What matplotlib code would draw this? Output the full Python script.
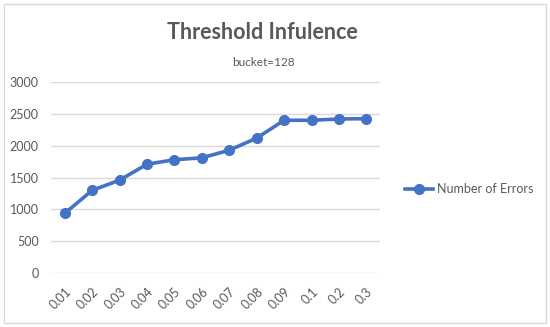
import matplotlib.pyplot as plt
from matplotlib.patches import Rectangle

thresholds = ['0.01', '0.02', '0.03', '0.04', '0.05', '0.06',
              '0.07', '0.08', '0.09', '0.1', '0.2', '0.3']
errors = [940, 1300, 1460, 1710, 1780, 1810, 1930, 2120, 2400, 2400, 2420, 2425]
yticks = [0, 500, 1000, 1500, 2000, 2500, 3000]

plt.rcParams['font.family'] = ['Lato', 'DejaVu Sans']
txt = '#595959'
blue = '#4472C4'

fig = plt.figure(figsize=(5.5, 3.27), dpi=100)
fig.patches.append(Rectangle((0.008, 0.012), 0.984, 0.975, transform=fig.transFigure,
                             fill=False, edgecolor='#d9d9d9', linewidth=1))
ax = fig.add_axes([0.093, 0.165, 0.598, 0.584])
xs = range(len(thresholds))
ax.plot(xs, errors, color=blue, linewidth=2.6, marker='o', markersize=7,
        label='Number of Errors')
ax.set_xlim(-0.5, len(thresholds) - 0.5)
ax.set_ylim(0, 3000)
ax.set_yticks(yticks)
ax.set_xticks(list(xs))
ax.set_xticklabels(thresholds, rotation=45, ha='right', rotation_mode='anchor')
ax.grid(axis='y', color='#d9d9d9', linewidth=1)
ax.set_axisbelow(True)
for s in ax.spines.values():
    s.set_visible(False)
ax.tick_params(length=0, colors=txt, labelsize=9)
ax.tick_params(axis='y', pad=9)
ax.tick_params(axis='x', pad=9)

fig.text(0.477, 0.902, 'Threshold Infulence', ha='center', va='center',
         fontsize=15.5, fontweight='bold', color=txt)
fig.text(0.479, 0.81, 'bucket=128', ha='center', va='center', fontsize=8.5, color=txt)

fig.legend(loc='center left', bbox_to_anchor=(0.715, 0.422), frameon=False,
           fontsize=9, labelcolor=txt, handlelength=2.3, handletextpad=0.3)

fig.savefig('out.png', dpi=100)
